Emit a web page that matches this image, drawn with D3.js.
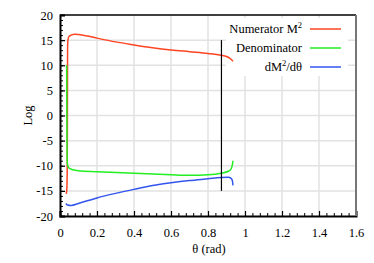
<!DOCTYPE html>
<html>
<head>
<meta charset="utf-8">
<script src="https://cdn.jsdelivr.net/npm/d3@7"></script>
<style>
  body { margin: 0; background: #fff; }
  svg text { font-family: "Liberation Serif", "DejaVu Serif", serif !important; }
</style>
</head>
<body>
<div id="chart"></div>
<script>
// data
var numerator = [
  [0.034, -15.6], [0.037, -14.6], [0.039, -11], [0.040, 0], [0.041, 13.5],
  [0.043, 15.0], [0.048, 15.7], [0.06, 16.0], [0.08, 16.15], [0.1, 16.1], [0.15, 15.8],
  [0.2, 15.4], [0.3, 14.65], [0.4, 14.05], [0.5, 13.5], [0.6, 13.05],
  [0.7, 12.7], [0.8, 12.35], [0.87, 12.0], [0.9, 11.75], [0.92, 11.35], [0.935, 10.8]
];
var denominator = [
  [0.036, 10], [0.037, 0], [0.038, -6], [0.039, -9], [0.042, -10],
  [0.05, -10.5], [0.07, -10.8], [0.1, -11.0], [0.2, -11.2], [0.4, -11.5],
  [0.6, -11.8], [0.7, -11.9], [0.8, -11.8], [0.87, -11.5], [0.91, -11.1],
  [0.925, -10.6], [0.932, -9.8], [0.935, -9.0]
];
var derivative = [
  [0.032, -17.5], [0.04, -17.8], [0.06, -17.9], [0.1, -17.5], [0.2, -16.4],
  [0.3, -15.5], [0.4, -14.7], [0.5, -13.95], [0.6, -13.4], [0.7, -12.95],
  [0.8, -12.6], [0.87, -12.35], [0.91, -12.3], [0.925, -12.5], [0.932, -13.0],
  [0.935, -13.9]
];
var markerTheta = 0.8727;   // vertical line
var markerRange = [-15, 15];

var xTicks = [0, 0.2, 0.4, 0.6, 0.8, 1, 1.2, 1.4, 1.6];
var yTicks = [-20, -15, -10, -5, 0, 5, 10, 15, 20];
var seriesNames = ["Numerator M", "Denominator", "dM"];
var seriesColors = ["#ff4422", "#22ee22", "#3355ee"];

var W = 374, H = 263;
var margin = {top: 15, right: 18, bottom: 47, left: 60};

var svg = d3.select("#chart").append("svg")
  .attr("width", W).attr("height", H);

var x = d3.scaleLinear().domain([0, 1.6]).range([margin.left, W - margin.right]);
var y = d3.scaleLinear().domain([-20, 20]).range([H - margin.bottom, margin.top]);

// grid
svg.append("g").selectAll("line").data(xTicks.slice(1, -1)).enter().append("line")
  .attr("x1", d => x(d)).attr("x2", d => x(d))
  .attr("y1", y(-20)).attr("y2", y(20))
  .attr("stroke", "#e2e2e2").attr("stroke-width", 1.5);
svg.append("g").selectAll("line").data(yTicks.slice(1, -1)).enter().append("line")
  .attr("x1", x(0)).attr("x2", x(1.6))
  .attr("y1", d => y(d)).attr("y2", d => y(d))
  .attr("stroke", "#e2e2e2").attr("stroke-width", 1.5);

// legend background covers grid
svg.append("rect")
  .attr("x", 226).attr("y", 18).attr("width", 122).attr("height", 58)
  .attr("fill", "#fff");

// axes
var fmt = d => d3.format("~g")(d).replace("\u2212", "-");
var xAxis = d3.axisBottom(x).tickValues(xTicks).tickSize(-5).tickPadding(12).tickFormat(fmt);
var gx = svg.append("g").attr("transform", "translate(0," + y(-20) + ")").call(xAxis);
var xMinor = d3.axisBottom(x).tickValues(d3.range(0, 1.6001, 0.04)).tickSize(-3).tickFormat("");
svg.append("g").attr("transform", "translate(0," + y(-20) + ")").call(xMinor)
  .select(".domain").remove();

var yAxis = d3.axisLeft(y).tickValues(yTicks).tickSize(-5).tickPadding(7).tickFormat(fmt);
var gy = svg.append("g").attr("transform", "translate(" + x(0) + ",0)").call(yAxis);
var yMinor = d3.axisLeft(y).tickValues(d3.range(-20, 20.01, 1)).tickSize(-3).tickFormat("");
svg.append("g").attr("transform", "translate(" + x(0) + ",0)").call(yMinor)
  .select(".domain").remove();

[gx, gy].forEach(function(g) {
  g.attr("font-family", null).attr("font-size", 12.5);
  g.select(".domain").attr("stroke", "#000").attr("stroke-width", 2);
  g.selectAll(".tick line").attr("stroke", "#000").attr("stroke-width", 1.2);
  g.selectAll(".tick text").attr("fill", "#000");
});

// frame top / right
svg.append("line").attr("x1", x(0)).attr("x2", x(1.6)).attr("y1", y(20)).attr("y2", y(20))
  .attr("stroke", "#000").attr("stroke-width", 1.5);
svg.append("line").attr("x1", x(1.6)).attr("x2", x(1.6)).attr("y1", y(20)).attr("y2", y(-20))
  .attr("stroke", "#777").attr("stroke-width", 2);

// series
var line = d3.line().x(d => x(d[0])).y(d => y(d[1])).curve(d3.curveMonotoneX);
[numerator, denominator, derivative].forEach(function(s, i) {
  svg.append("path").datum(s)
    .attr("d", line)
    .attr("fill", "none")
    .attr("stroke", seriesColors[i])
    .attr("stroke-width", 1.5);
});

// marker line
svg.append("line")
  .attr("x1", x(markerTheta)).attr("x2", x(markerTheta))
  .attr("y1", y(markerRange[1])).attr("y2", y(markerRange[0]))
  .attr("stroke", "#000").attr("stroke-width", 1.2);

// legend
var leg = svg.append("g");
var rowY = [29, 48, 67];
seriesNames.forEach(function(name, i) {
  var t = leg.append("text").attr("x", 302).attr("y", rowY[i] + 4)
    .attr("text-anchor", "end").attr("font-size", 12.5).attr("fill", "#000");
  t.append("tspan").text(name);
  if (i === 0) {
    t.append("tspan").attr("dy", -5).attr("font-size", 8.5).text("2");
  } else if (i === 2) {
    t.append("tspan").attr("dy", -5).attr("font-size", 8.5).text("2");
    t.append("tspan").attr("dy", 5).text("/d\u03b8");
  }
  leg.append("line").attr("x1", 310).attr("x2", 341)
    .attr("y1", rowY[i]).attr("y2", rowY[i])
    .attr("stroke", seriesColors[i]).attr("stroke-width", 1.5);
});

// axis titles
svg.append("text")
  .attr("transform", "translate(32," + y(0) + ") rotate(-90)")
  .attr("text-anchor", "middle").attr("font-size", 12.5).text("Log");
svg.append("text")
  .attr("x", 209).attr("y", 253)
  .attr("text-anchor", "middle").attr("font-size", 12.5).text("\u03b8 (rad)");
</script>
</body>
</html>
